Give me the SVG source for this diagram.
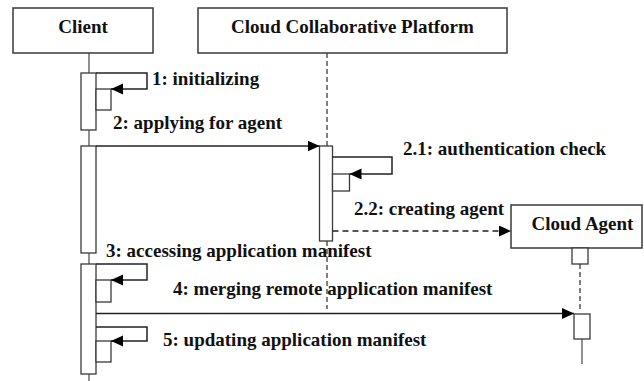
<svg xmlns="http://www.w3.org/2000/svg" width="644" height="381" viewBox="0 0 644 381">
  <style>
    .box { fill: #ffffff; stroke: #3a3a3a; stroke-width: 1.5; }
    .act { fill: #ffffff; stroke: #3a3a3a; stroke-width: 1.3; }
    .life { stroke: #555555; stroke-width: 1.3; fill: none; }
    .life-dash { stroke: #555555; stroke-width: 1.5; fill: none; stroke-dasharray: 5 3; }
    .msg { stroke: #222222; stroke-width: 1.5; fill: none; }
    .msg-dash { stroke: #222222; stroke-width: 1.5; fill: none; stroke-dasharray: 6 4; }
    text { font-family: "Liberation Serif", "Times New Roman", serif; font-weight: bold; font-size: 19px; fill: #111111; }
    .title { text-anchor: middle; }
  </style>
  <defs>
    <marker id="arrow" markerUnits="userSpaceOnUse" markerWidth="13" markerHeight="12" refX="12" refY="5.5" orient="auto">
      <path d="M0,0 L12,5.5 L0,11 z" fill="#000000"/>
    </marker>
  </defs>

  <rect width="644" height="381" fill="#ffffff"/>

  <!-- lifelines -->
  <g id="lifelines">
    <line class="life" x1="89" y1="53" x2="89" y2="73"/>
    <line class="life" x1="89" y1="130" x2="89" y2="146"/>
    <line class="life" x1="89" y1="253" x2="89" y2="264"/>
    <line class="life" x1="89" y1="374" x2="89" y2="381"/>
    <line class="life-dash" x1="327" y1="53" x2="327" y2="146"/>
    <line class="life-dash" x1="327" y1="241" x2="327" y2="309"/>
    <line class="life-dash" x1="580" y1="264" x2="580" y2="312"/>
    <line class="life" x1="582" y1="339" x2="582" y2="364"/>
  </g>

  <!-- participant: Client -->
  <g id="client">
    <rect class="box" x="13" y="8" width="140" height="45"/>
    <text class="title" x="83" y="33">Client</text>
    <rect class="act" x="81" y="73" width="15" height="57"/>
    <rect class="act" x="96" y="89" width="15" height="21"/>
    <rect class="act" x="81" y="146" width="15" height="107"/>
    <rect class="act" x="81" y="264" width="15" height="110"/>
    <rect class="act" x="96" y="280" width="15" height="22"/>
    <rect class="act" x="96" y="341" width="15" height="21"/>
  </g>

  <!-- participant: Cloud Collaborative Platform -->
  <g id="platform">
    <rect class="box" x="198" y="8" width="309" height="45"/>
    <text class="title" x="352.5" y="33">Cloud Collaborative Platform</text>
    <rect class="act" x="319.5" y="146" width="13" height="95"/>
    <rect class="act" x="332.5" y="174" width="17" height="17"/>
  </g>

  <!-- participant: Cloud Agent -->
  <g id="agent">
    <rect class="box" x="511" y="205" width="131" height="43"/>
    <text class="title" x="582.5" y="230">Cloud Agent</text>
    <rect class="act" x="572" y="248" width="16" height="16"/>
    <rect class="act" x="574" y="314" width="16" height="25"/>
  </g>

  <!-- messages -->
  <g id="connectors">
    <polyline class="msg" points="96,73 147,73 147,89 111,89" marker-end="url(#arrow)"/>
    <line class="msg" x1="96" y1="146" x2="319.5" y2="146" marker-end="url(#arrow)"/>
    <polyline class="msg" points="332.5,157 392,157 392,174 349.5,174" marker-end="url(#arrow)"/>
    <line class="msg-dash" x1="332.5" y1="231" x2="511" y2="231" marker-end="url(#arrow)"/>
    <polyline class="msg" points="96,264 147,264 147,280 111,280" marker-end="url(#arrow)"/>
    <line class="msg" x1="96" y1="313.5" x2="574" y2="313.5" marker-end="url(#arrow)"/>
    <polyline class="msg" points="96,327 147,327 147,341 111,341" marker-end="url(#arrow)"/>
  </g>

  <!-- message labels -->
  <g id="labels">
    <text x="152" y="85">1: initializing</text>
    <text x="113" y="129">2: applying for agent</text>
    <text x="403" y="155">2.1: authentication check</text>
    <text x="354" y="215">2.2: creating agent</text>
    <text x="106" y="257">3: accessing application manifest</text>
    <text x="173" y="295">4: merging remote application manifest</text>
    <text x="163" y="346">5: updating application manifest</text>
  </g>
</svg>
